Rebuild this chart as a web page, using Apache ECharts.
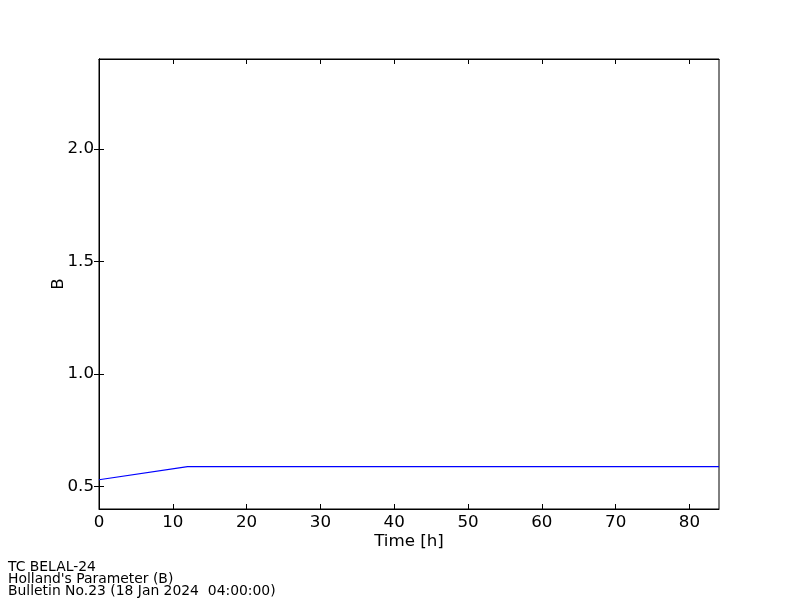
<!DOCTYPE html>
<html><head><meta charset="utf-8">
<script src="https://cdn.jsdelivr.net/npm/echarts@6/dist/echarts.min.js"></script>
<style>html,body{margin:0;padding:0;background:#fff}#c{width:800px;height:600px}</style>
</head><body><div id="c"></div>
<script>
const hours = [0, 12, 24, 36, 48, 60, 72, 84];
const bValues = [0.53, 0.588, 0.588, 0.588, 0.588, 0.588, 0.588, 0.588];
const xTicks = [0, 10, 20, 30, 40, 50, 60, 70, 80];
const yTicks = [0.5, 1.0, 1.5, 2.0];
const footer = ["TC BELAL-24", "Holland's Parameter (B)", "Bulletin No.23 (18 Jan 2024  04:00:00)"];

const F = 'DejaVu Sans';
const FS = 16.7;
const chart = echarts.init(document.getElementById('c'), null, {renderer: 'canvas'});
const tickStyle = {show: true, inside: true, length: 5, lineStyle: {color: '#000', width: 1}};
chart.setOption({
  animation: false,
  backgroundColor: '#fff',
  grid: {left: 99, top: 59, width: 620, height: 450, show: true, borderColor: '#000', borderWidth: 1, backgroundColor: 'transparent'},
  xAxis: [{
    type: 'value', min: 0, max: 84,
    name: 'Time [h]', nameLocation: 'middle', nameGap: 24, nameMoveOverlap: false,
    nameTextStyle: {fontFamily: F, fontSize: FS, color: '#000'},
    axisLine: {show: true, lineStyle: {color: '#000'}},
    axisTick: Object.assign({customValues: xTicks}, tickStyle),
    axisLabel: {customValues: xTicks, fontFamily: F, fontSize: FS, color: '#000', margin: 5},
    splitLine: {show: false}
  }, {
    type: 'value', min: 0, max: 84, position: 'top',
    axisLine: {show: true, lineStyle: {color: '#000'}},
    axisTick: Object.assign({customValues: xTicks}, tickStyle),
    axisLabel: {show: false}, splitLine: {show: false}
  }],
  yAxis: [{
    type: 'value', min: 0.4, max: 2.4,
    name: 'B', nameLocation: 'middle', nameGap: 32, nameRotate: 90, nameMoveOverlap: false,
    nameTextStyle: {fontFamily: F, fontSize: FS, color: '#000'},
    axisLine: {show: true, lineStyle: {color: '#000'}},
    axisTick: Object.assign({customValues: yTicks}, tickStyle),
    axisLabel: {customValues: yTicks, fontFamily: F, fontSize: FS, color: '#000', margin: 5,
      formatter: v => v.toFixed(1)},
    splitLine: {show: false}
  }, {
    type: 'value', min: 0.4, max: 2.4, position: 'right',
    axisLine: {show: true, lineStyle: {color: '#000'}},
    axisTick: Object.assign({customValues: yTicks}, tickStyle),
    axisLabel: {show: false}, splitLine: {show: false}
  }],
  series: [{
    type: 'line', data: hours.map((h, i) => [h, bValues[i]]),
    showSymbol: false, lineStyle: {color: '#0000ff', width: 1.2}, itemStyle: {color: '#0000ff'}
  }],
  graphic: footer.map((t, i) => ({
    type: 'text', left: 8, top: 560 + i * 12,
    style: {text: t, fontFamily: F, fontSize: 13.9, fill: '#000'}
  }))
});
</script></body></html>
